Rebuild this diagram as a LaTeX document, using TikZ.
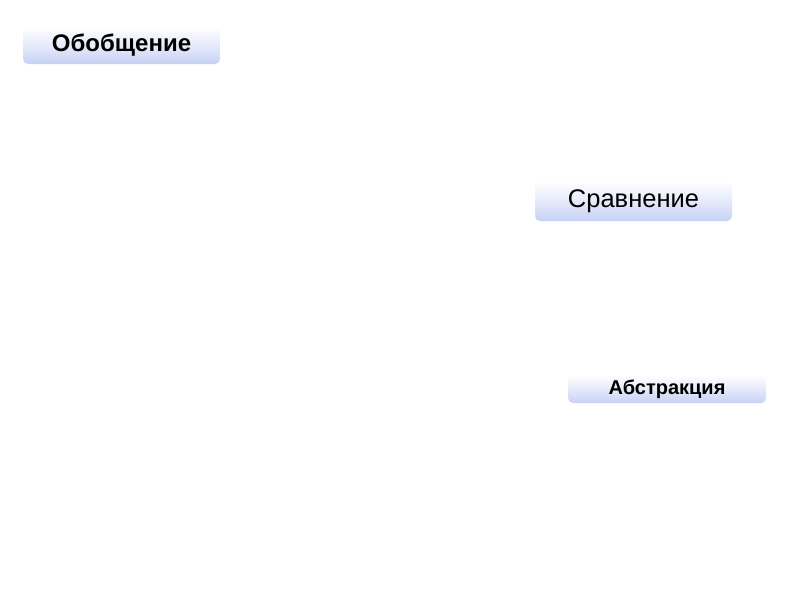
\documentclass[tikz,border=0pt]{standalone}
\usepackage{fontspec}
\setmainfont{Liberation Sans}
\usepackage{xcolor}
\definecolor{boxblue}{HTML}{C6D1F4}
\tikzset{
  termbox/.style={rounded corners=5pt, top color=white, bottom color=boxblue,
    middle color=boxblue!45, draw=none, inner sep=0pt}
}

\begin{document}
\begin{tikzpicture}[x=1pt, y=-1pt]
            \useasboundingbox (0, 0) rectangle (794, 595);
            \node[termbox, minimum width=197pt, minimum height=37pt] (obob) at (121.5, 45.5) {\fontsize{24}{27}\selectfont\bfseries Обобщение};
            \node[termbox, minimum width=197pt, minimum height=40pt] (srav) at (633.5, 201) {\fontsize{25.5}{28}\selectfont Сравнение};
            \node[termbox, minimum width=198pt, minimum height=28pt] (abst) at (667, 389) {\fontsize{20}{22}\selectfont\bfseries Абстракция};
        \end{tikzpicture}
\end{document}
